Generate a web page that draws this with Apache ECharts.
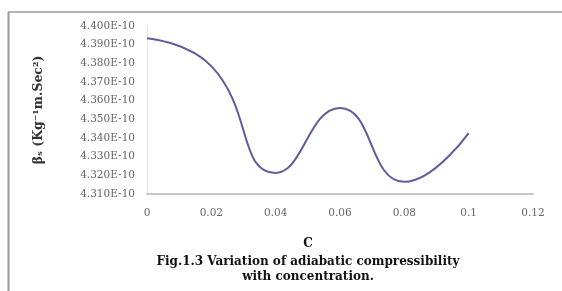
<!DOCTYPE html>
<html>
<head>
<meta charset="utf-8">
<script src="https://cdn.jsdelivr.net/npm/echarts@6/dist/echarts.min.js"></script>
<style>
  html, body { margin: 0; padding: 0; background: #fff; }
  #chart { width: 562px; height: 291px; }
</style>
</head>
<body>
<div id="chart"></div>
<script>
// concentration C
const conc = [0, 0.02, 0.04, 0.06, 0.08, 0.1]
// adiabatic compressibility βs (Kg-1 m.Sec2)
const beta = [4.3935e-10, 4.3785e-10, 4.3213e-10, 4.3561e-10, 4.3165e-10, 4.3426e-10]

const serif = '"DejaVu Serif", "Liberation Serif", serif'
const myChart = echarts.init(document.getElementById('chart'))

myChart.setOption({
  animation: false,
  backgroundColor: '#fff',
  title: [
    {
      text: 'C',
      left: 303,
      top: 233,
      textAlign: 'center',
      textStyle: { fontFamily: serif, fontSize: 12, fontWeight: 'bold', color: '#111' }
    },
    {
      text: 'Fig.1.3 Variation of adiabatic compressibility\nwith concentration.',
      left: 303,
      top: 249,
      textAlign: 'center',
      textStyle: { fontFamily: serif, fontSize: 12, fontWeight: 'bold', color: '#111', lineHeight: 15 }
    }
  ],
  grid: { left: 147, right: 29, top: 26, bottom: 97 },
  xAxis: {
    type: 'value',
    min: 0,
    max: 0.12,
    interval: 0.02,
    axisLine: { lineStyle: { color: '#c8c8c8', width: 2 } },
    axisTick: { show: false },
    splitLine: { show: false },
    axisLabel: {
      fontFamily: serif, fontSize: 10.5, color: '#666', margin: 14,
      formatter: v => String(Math.round(v * 100) / 100)
    }
  },
  yAxis: {
    type: 'value',
    min: 4.31e-10,
    max: 4.40e-10,
    interval: 0.01e-10,
    name: 'βₛ (Kg⁻¹m.Sec²)',
    nameLocation: 'middle',
    nameRotate: 90,
    nameGap: 102,
    nameTextStyle: { fontFamily: serif, fontSize: 12.5, fontWeight: 'bold', color: '#333' },
    axisLine: { show: true, lineStyle: { color: '#e4e4e4' } },
    axisTick: { show: false },
    splitLine: { show: false },
    axisLabel: {
      fontFamily: serif, fontSize: 10.5, color: '#666', margin: 12,
      formatter: v => (v * 1e10).toFixed(3) + 'E-10'
    }
  },
  graphic: [
    { type: 'line', shape: { x1: 8.5, y1: 12, x2: 8.5, y2: 291 }, style: { stroke: '#9a9a9a', lineWidth: 2 } },
    { type: 'line', shape: { x1: 8, y1: 12, x2: 562, y2: 12 }, style: { stroke: '#9a9a9a', lineWidth: 1.5 } }
  ],
  series: [
    {
      type: 'line',
      smooth: 0.5,
      symbol: 'none',
      lineStyle: { color: '#5c5c9e', width: 2 },
      data: conc.map((c, i) => [c, beta[i]])
    }
  ]
})
</script>
</body>
</html>
